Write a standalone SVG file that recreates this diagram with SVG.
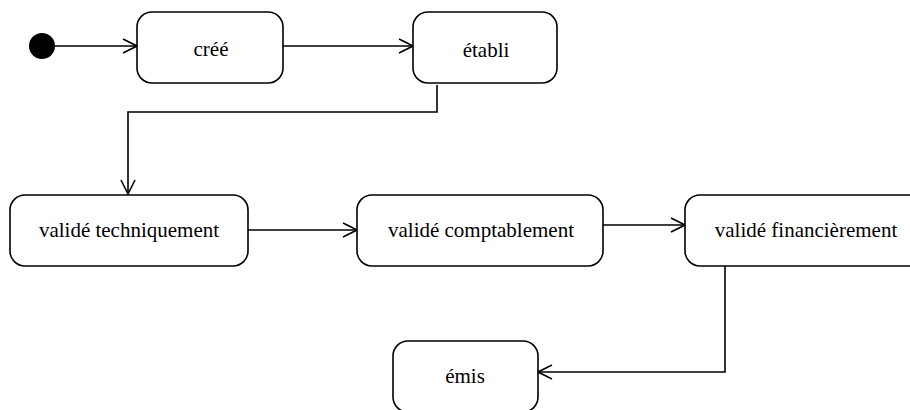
<svg xmlns="http://www.w3.org/2000/svg" width="910" height="410" viewBox="0 0 910 410">
<defs>
<style>
.state{fill:#fff;stroke:#000;stroke-width:1.6}
.lbl{font-family:"Liberation Serif","Times New Roman",serif;font-size:21px;fill:#000;text-anchor:middle}
.conn{fill:none;stroke:#000;stroke-width:1.6}
</style>
<marker id="arr" markerWidth="16" markerHeight="16" refX="15" refY="8" orient="auto" markerUnits="userSpaceOnUse">
<path d="M1,1 L15,8 L1,15" fill="none" stroke="#000" stroke-width="1.6"/>
</marker>
</defs>
<rect width="910" height="410" fill="#fff"/>
<g id="connectors">
<path class="conn" d="M55,46 L137,46" marker-end="url(#arr)"/>
<path class="conn" d="M283,46 L413,46" marker-end="url(#arr)"/>
<path class="conn" d="M437,85 L437,112 L128,112 L128,194" marker-end="url(#arr)"/>
<path class="conn" d="M248,230 L357,230" marker-end="url(#arr)"/>
<path class="conn" d="M603,225 L685,225" marker-end="url(#arr)"/>
<path class="conn" d="M725,266 L725,372 L538,372" marker-end="url(#arr)"/>
</g>
<g id="initial">
<circle cx="42" cy="46" r="13" fill="#000"/>
</g>
<g id="cree">
<rect class="state" x="137" y="12" width="146" height="71" rx="15"/>
<text class="lbl" x="211" y="56" font-size="20">créé</text>
</g>
<g id="etabli">
<rect class="state" x="413" y="12" width="144" height="71" rx="15"/>
<text class="lbl" x="486" y="57">établi</text>
</g>
<g id="valide_techniquement">
<rect class="state" x="10" y="195" width="238" height="71" rx="15"/>
<text class="lbl" x="129" y="237">validé techniquement</text>
</g>
<g id="valide_comptablement">
<rect class="state" x="357" y="195" width="246" height="71" rx="15"/>
<text class="lbl" x="481" y="237">validé comptablement</text>
</g>
<g id="valide_financierement">
<rect class="state" x="685" y="195" width="242" height="71" rx="15"/>
<text class="lbl" x="806" y="237">validé financièrement</text>
</g>
<g id="emis">
<rect class="state" x="393" y="341" width="145" height="71" rx="15"/>
<text class="lbl" x="465" y="383">émis</text>
</g>
</svg>
